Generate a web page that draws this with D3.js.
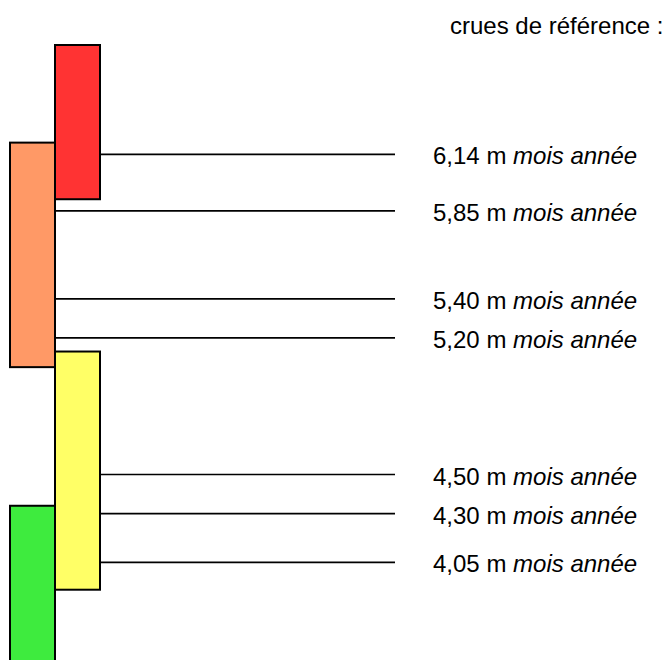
<!DOCTYPE html>
<html>
<head>
<meta charset="utf-8">
<script src="https://cdn.jsdelivr.net/npm/d3@7"></script>
<style>
  body { margin: 0; background: #fff; }
  svg text { font-family: "Liberation Sans", Arial, sans-serif; font-size: 24px; fill: #000; }
  .level { stroke: #000; stroke-width: 1.7; }
  .band  { stroke: #000; stroke-width: 2; }
</style>
</head>
<body>
<svg width="668" height="660"></svg>
<script>
// hauteurs des crues de référence (m)
const levels     = [6.14, 5.85, 5.40, 5.20, 4.50, 4.30, 4.05];
const dateLabels = ["mois année", "mois année", "mois année", "mois année",
                    "mois année", "mois année", "mois année"];

// niveaux de vigilance : bas / haut de chaque bande (m)
const bandNames  = ["vert", "jaune", "orange", "rouge"];
const bandLow    = [3.50, 3.91, 5.05, 5.91];
const bandHigh   = [4.34, 5.13, 6.20, 6.70];
const bandColors = ["#3eeb3e", "#ffff66", "#ff9966", "#ff3333"];

const title = "crues de référence :";

let svg    = d3.select("svg"),
    y      = d3.scaleLinear()
               .domain([3.55, 6.70])
               .range([660, 45]),
    x      = d3.scaleBand()
               .domain([0, 1])
               .range([10, 100]),
    color  = d3.scaleOrdinal()
               .domain(bandNames)
               .range(bandColors),
    fr     = d3.formatLocale({decimal: ",", thousands: " ", grouping: [3], currency: ["", " €"]}),
    fmt    = fr.format(".2f"),
    bands  = bandNames.map((d, i) => ({name: d, low: bandLow[i], high: bandHigh[i], col: i % 2}));

// traits des crues
svg.append("g")
  .selectAll("line")
  .data(levels)
  .enter().append("line")
    .attr("class", "level")
    .attr("x1", x(1))
    .attr("x2", 395)
    .attr("y1", d => y(d))
    .attr("y2", d => y(d));

// bandes de vigilance
svg.append("g")
  .selectAll("rect")
  .data(bands)
  .enter().append("rect")
    .attr("class", "band")
    .attr("x", d => x(d.col))
    .attr("width", x.bandwidth())
    .attr("y", d => y(d.high))
    .attr("height", d => y(d.low) - y(d.high))
    .attr("fill", d => color(d.name));

// étiquettes
let labels = svg.append("g")
  .selectAll("text")
  .data(levels)
  .enter().append("text")
    .attr("x", 433)
    .attr("y", d => y(d) + 10);

labels.append("tspan")
  .text(d => fmt(d) + " m ");

labels.append("tspan")
  .attr("font-style", "italic")
  .text((d, i) => dateLabels[i]);

svg.append("text")
  .attr("x", 450)
  .attr("y", 34)
  .text(title);
</script>
</body>
</html>
